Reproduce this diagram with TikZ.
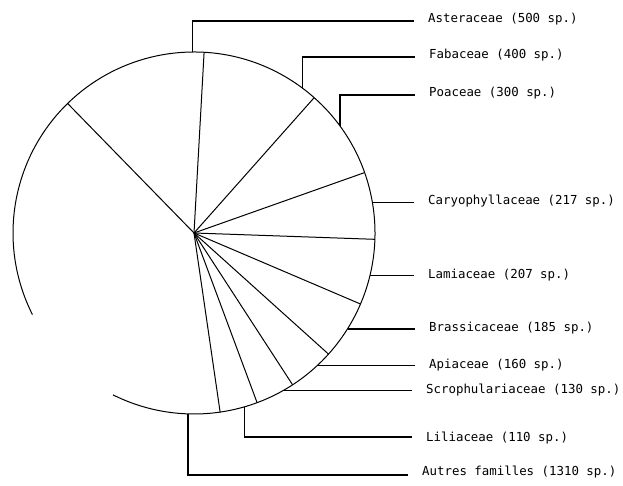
\documentclass[tikz,border=0pt]{standalone}
\usepackage{fontspec}
\setmonofont{DejaVu Sans Mono}
\usetikzlibrary{calc}
\tikzset{
	lbl/.style={anchor=base west, inner sep=0pt, font=\ttfamily\fontsize{12.4}{15}\selectfont},
	leader/.style={line width=1.2pt, shorten >=14pt},
	pie/.style={line width=1pt}
}

\begin{document}
\begin{tikzpicture}[x=1pt, y=1pt]
			%%%%% START %%%%%
			\useasboundingbox (0, 0) rectangle (623, 485);
			
			\coordinate (c) at (194, 252);
			
			% circle, open on the lower left
			\draw[pie] (c) ++(-81.7:181) arc (-81.7:206.8:181);
			\draw[pie] (c) ++(243.4:181) arc (243.4:278.3:181);
			
			% sectors
			\draw[pie] (c) -- ++(134.3:181);
			\draw[pie] (c) -- ++(86.8:181);
			\draw[pie] (c) -- ++(48.4:181);
			\draw[pie] (c) -- ++(19.5:181);
			\draw[pie] (c) -- ++(-2:181);
			\draw[pie] (c) -- ++(-23.1:181);
			\draw[pie] (c) -- ++(-42:181);
			\draw[pie] (c) -- ++(-57:181);
			\draw[pie] (c) -- ++(-69.6:181);
			\draw[pie] (c) -- ++(-81.7:181);
			
			% labels
			\node[lbl] (ast) at (428, 462) {Asteraceae (500 sp.)};
			\node[lbl] (fab) at (429, 426) {Fabaceae (400 sp.)};
			\node[lbl] (poa) at (429, 388) {Poaceae (300 sp.)};
			\node[lbl] (car) at (428, 280) {Caryophyllaceae (217 sp.)};
			\node[lbl] (lam) at (428, 207) {Lamiaceae (207 sp.)};
			\node[lbl] (bra) at (429, 154) {Brassicaceae (185 sp.)};
			\node[lbl] (api) at (429, 117) {Apiaceae (160 sp.)};
			\node[lbl] (scr) at (426, 92) {Scrophulariaceae (130 sp.)};
			\node[lbl] (lil) at (426, 44) {Liliaceae (110 sp.)};
			\node[lbl] (aut) at (422, 10) {Autres familles (1310 sp.)};
			
			% leaders
			\draw[leader] ($(c)+(90.6:181)$) |- ([yshift=2pt]ast.base west);
			\draw[leader] ($(c)+(53.3:181)$) |- ([yshift=2pt]fab.base west);
			\draw[leader] ($(c)+(36.2:181)$) |- ([yshift=2pt]poa.base west);
			\draw[leader] ($(c)+(9.6:181)$) coordinate (pcar) -- (pcar -| car.west);
			\draw[leader] ($(c)+(-13.6:181)$) coordinate (plam) -- (plam -| lam.west);
			\draw[leader] ($(c)+(-32:181)$) coordinate (pbra) -- (pbra -| bra.west);
			\draw[leader] ($(c)+(-47.2:181)$) coordinate (papi) -- (papi -| api.west);
			\draw[leader] ($(c)+(-60.6:181)$) coordinate (pscr) -- (pscr -| scr.west);
			\draw[leader] ($(c)+(-73.7:181)$) |- ([yshift=4pt]lil.base west);
			\draw[leader] ($(c)+(-91.9:181)$) |- ([yshift=0pt]aut.base west);
			
			%%%%% END %%%%%
\end{tikzpicture}
\end{document}
